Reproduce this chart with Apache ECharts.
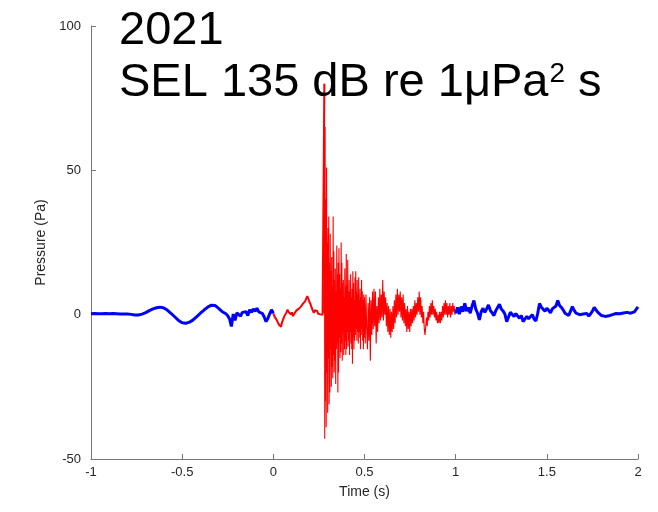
<!DOCTYPE html>
<html>
<head>
<meta charset="utf-8">
<script src="https://cdn.jsdelivr.net/npm/echarts@6/dist/echarts.min.js"></script>
<style>
  html, body { margin: 0; padding: 0; background: #fff; }
  #chart { width: 658px; height: 512px; }
</style>
</head>
<body>
<div id="chart"></div>
<script>
// pressure trace, split in the coloured parts
var preStart = -1, preStep = 0.01;
var preValues = [
  0.3, 0.1, 0.4, 0.2, 0.3, 0.0, 0.3, 0.2, 0.4, 0.1,
  0.3, 0.2, 0.4, 0.1, 0.3, 0.2, 0.2, 0.0, 0.2, 0.1,
  0.2, -0.1, 0.1, 0.0, -0.1, 0.0, -0.1, 0.1, 0.2, 0.4,
  0.7, 1.0, 1.4, 1.7, 2.0, 2.2, 2.4, 2.6, 2.6, 2.5,
  2.3, 1.9, 1.5, 1.0, 0.4, -0.2, -0.8, -1.4, -2.0, -2.5,
  -2.8, -3.0, -3.0, -2.8, -2.6, -2.2, -1.8, -1.2, -0.7, -0.1,
  0.5, 1.1, 1.6, 2.1, 2.6, 3.0, 3.3, 3.7, 3.2, 2.8,
  2.2, 1.6, 1.0, 0.6, 0.3, -0.4, -1.5, -4.1, 0.2, -2.0,
  0.6, 1.2, -0.5, 0.8, 0.2, 1.0, -0.3, 1.7, 0.8, 2.0,
  1.2, 2.2, 1.0, 1.5, 0.4, -0.8, -2.4, -1.3, 0.3, 1.7,
  0.5
];

var leadStart = 0, leadStep = 0.006;
var leadValues = [
  0.5, -0.6, -0.4, -1.8, -2.2, -3.4, -3.0, -4.2, -2.6, -2.0,
  -0.6, -0.9, 0.8, 1.7, 0.9, 1.2, 0.1, 0.8, -0.5, 0.2,
  0.6, 1.4, 0.9, 2.0, 1.6, 2.7, 2.9, 3.8, 3.4, 4.6,
  5.0, 6.4, 5.5, 4.4, 3.6, 2.4, 1.5, 0.6, 1.5, 1.0,
  1.3, 0.3, 0.9, 0.1, 0.7, 0.0, 0.5
];

// the loud part, read at a finer step
var burstStart = 0.28, burstStep = 0.002;
var burstValues = [
  80, -43, 65, -30, 40, -39, 51, -20, 25, -34,
  30, -15, 34, -31, 18, -27, 28, -12, 15, -25,
  20, -18, 10, -22, 34, -14, 22, -20, 12, -16,
  16, -24, 8, -12, 24, -10, 14, -27, 18, -20,
  23, -8, 14, -15, 9, -13, 25, -10, 18, -16,
  11, -6, 12, -14, 6, -12, 16, -9, 10, -14,
  21, -12, 10, -6, 19, -11, 8, -9, 12, -14,
  8, -6, 14, -10, 6, -12, 9, -17, 15, -8,
  11, -12, 5, -9, 13, -7, 15, -5, 8, -9,
  12, -6, 7, -10, 13, -6, 5, -8, 9, -12,
  6, -7, 12, -5, 8, -9, 5, -12, 7, -8
];

var tailStart = 0.5, tailStep = 0.004;
var tailValues = [
  6, -10, 7, -5, -12,
  4, -9, 6, -16, 5, -7, 8, -5, 9, -4,
  8, -10, 3, -6, 6, -3, 9, -2, 7, -1,
  12, -2, 8, 0, 6, -4, 4, -6, 3, -7,
  2, -8, 1, -6, 3, -5, 5, -3, 7, -1,
  9, 0, 7, 1, 8, -1, 6, -2, 7, -3,
  4, -4, 2, -6, 3, -5, 1, -6, 2, -4,
  2, -3, 3, -2, 5, -1, 4, 0, 6, 1,
  8, 0, 6, -1, 3, -3, 1, -5, -7, -4,
  -1, -4, 1, -2, 3, -1, 4, 0, 5, 0,
  3, -1, 2, -2, 1, -3, 0, -3, 1, -3,
  1, -2, 3, -1, 4, 0, 5, 0, 4, -1,
  3, 0, 4, -1, 3, 0, 4, 1, 3, 0,
  1
];

var postStart = 1, postStep = 0.01;
var postValues = [
  0.5, 2.5, 0.2, 2.8, 1.0, 3.9, 1.2, 2.5, 0.5, 3.0,
  4.9, 2.0, 0.5, -1.8, 1.0, 2.2, 0.8, 2.0, 3.4, 1.5,
  0.6, -0.3, 1.4, 2.5, 3.6, 2.0, 1.3, 0.2, -2.4, -0.8,
  0.8, 0.5, -0.6, 0.4, -0.5, -1.2, -0.3, -2.4, -1.5, -0.6,
  -1.4, -1.0, 0.0, -1.5, -2.2, 0.5, 3.9, 2.6, 2.0, 1.2,
  2.2, 1.5, 0.6, 2.0, 1.4, 3.0, 4.9, 3.2, 2.5, 1.6,
  0.5, 0.5, -0.3, 1.2, 2.8, 1.5, 0.5, 0.9, 0.0, 0.6,
  0.2, -0.2, 0.4, -0.5, 0.3, 1.2, 2.5, 1.6, 0.8, 0.2,
  -0.3, -0.6, -0.6, -0.1, -0.4, 0.2, 0.0, 0.1, 0.4, 0.6,
  0.3, 0.7, 0.6, 1.2, 0.8, 0.9, 0.5, 0.7, 1.0, 1.6,
  2.7
];

var xTicks = { min: -1, max: 2, step: 0.5 };
var yTicks = { min: -50, max: 100, step: 50 };

function pairs(start, step, values) {
  return values.map(function (v, i) {
    return [+(start + i * step).toFixed(4), v];
  });
}

var redLead = pairs(leadStart, leadStep, leadValues);
var redBurst = pairs(burstStart, burstStep, burstValues)
  .concat(pairs(tailStart, tailStep, tailValues));

var chart = echarts.init(document.getElementById('chart'));

var axisCommon = {
  type: 'value',
  splitLine: { show: false },
  axisLine: { onZero: false, lineStyle: { color: '#777', width: 1 } },
  axisTick: { inside: true, length: 5, lineStyle: { color: '#777' } },
  axisLabel: { color: '#262626', fontSize: 13, fontFamily: 'Liberation Sans' },
  nameTextStyle: { color: '#262626', fontSize: 14, fontFamily: 'Liberation Sans' }
};

var titleFont = {
  fontSize: 47, lineHeight: 47, fontWeight: 'normal', color: '#000',
  fontFamily: 'Liberation Sans',
  rich: {
    sup: { fontSize: 28, lineHeight: 28, verticalAlign: 'top', color: '#000', fontFamily: 'Liberation Sans', padding: [0, 0, 0, 1] }
  }
};

var option = {
  backgroundColor: '#fff',
  animation: false,
  title: [
    { text: '2021', left: 119, top: 8, padding: 0, textStyle: titleFont },
    { text: 'SEL 135 dB re 1μPa{sup|2} s', left: 119, top: 60, padding: 0, textStyle: titleFont }
  ],
  grid: { left: 91, right: 20, top: 26, bottom: 53 },
  xAxis: Object.assign({}, axisCommon, {
    min: xTicks.min, max: xTicks.max, interval: xTicks.step,
    name: 'Time (s)', nameLocation: 'middle', nameGap: 26,
    axisLabel: Object.assign({}, axisCommon.axisLabel, { margin: 7 })
  }),
  yAxis: Object.assign({}, axisCommon, {
    min: yTicks.min, max: yTicks.max, interval: yTicks.step,
    name: 'Pressure (Pa)', nameLocation: 'middle', nameGap: 42,
    axisLabel: Object.assign({}, axisCommon.axisLabel, { margin: 10 })
  }),
  series: [
    {
      type: 'line', showSymbol: false, silent: true,
      data: pairs(preStart, preStep, preValues),
      lineStyle: { color: '#0000ff', width: 3 }
    },
    {
      type: 'line', showSymbol: false, silent: true,
      data: redLead.concat([redBurst[0]]),
      lineStyle: { color: '#ff0000', width: 2 }
    },
    {
      type: 'line', showSymbol: false, silent: true,
      data: [redLead[redLead.length - 1]].concat(redBurst),
      lineStyle: { color: '#ff0000', width: 1.1 }
    },
    {
      type: 'line', showSymbol: false, silent: true,
      data: pairs(postStart, postStep, postValues),
      lineStyle: { color: '#0000ff', width: 3 }
    }
  ]
};

chart.setOption(option);
</script>
</body>
</html>
